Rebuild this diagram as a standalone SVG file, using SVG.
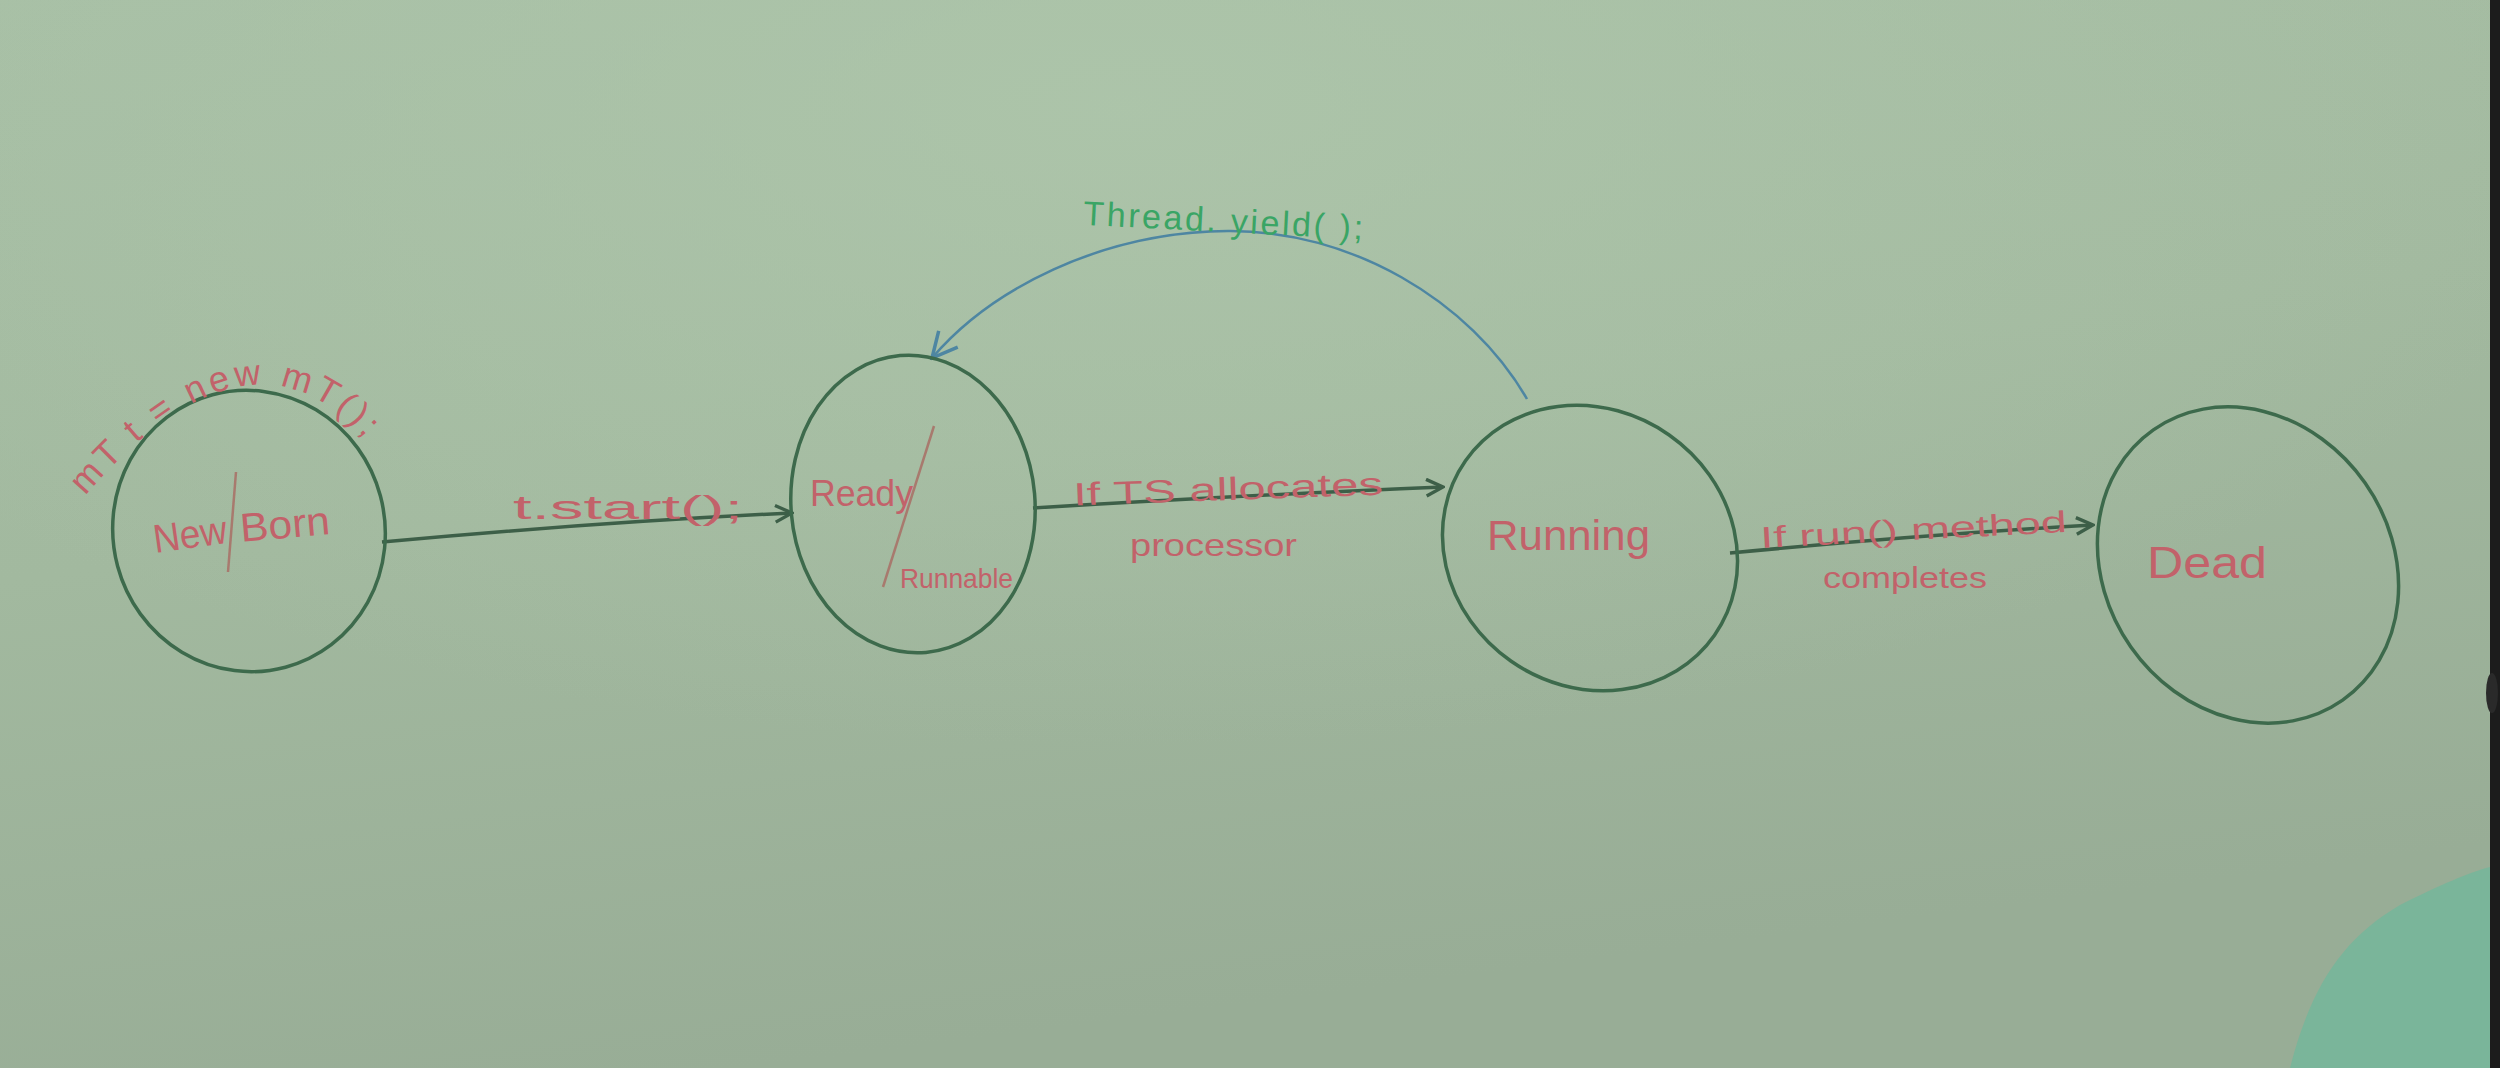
<svg xmlns="http://www.w3.org/2000/svg" width="2500" height="1068" viewBox="0 0 2500 1068">
<style>
.node{fill:none;stroke:#3d6a4c;stroke-width:3.5}
.lbl{font-family:"Liberation Sans","DejaVu Sans",sans-serif;fill:#c2626a}
.slash{stroke:#a87a6e;stroke-width:2.5}
.conn{fill:none;stroke:#3d5f48;stroke-width:3.5}
.yield{fill:none;stroke:#4e86a2;stroke-width:2.5}
</style>
<defs>
<linearGradient id="bg" x1="0" y1="0" x2="0.3" y2="1">
<stop offset="0" stop-color="#a7bfa5"/>
<stop offset="0.5" stop-color="#a2b99f"/>
<stop offset="1" stop-color="#98ad96"/>
</linearGradient>
<radialGradient id="glow" cx="0.45" cy="0.1" r="0.6">
<stop offset="0" stop-color="#aec6ab" stop-opacity="0.8"/>
<stop offset="1" stop-color="#aec6ab" stop-opacity="0"/>
</radialGradient>
<marker id="arr" viewBox="0 0 12 12" refX="11" refY="6" markerWidth="20" markerHeight="20" markerUnits="userSpaceOnUse" orient="auto">
<path d="M1,1 L11,6 L1,11" fill="none" stroke="#3d5f48" stroke-width="2"/>
</marker>
<marker id="arrB" viewBox="0 0 12 12" refX="11" refY="6" markerWidth="30" markerHeight="30" markerUnits="userSpaceOnUse" orient="auto">
<path d="M1,1 L11,6 L1,11" fill="none" stroke="#4e86a2" stroke-width="1.4"/>
</marker>
</defs>
<rect width="2500" height="1068" fill="url(#bg)"/>
<rect width="2500" height="1068" fill="url(#glow)"/>
<path d="M2290,1068 C2310,990 2340,940 2400,905 C2440,885 2470,872 2490,867 L2490,1068 Z" fill="#7ab59a"/>
<rect x="2490" y="0" width="10" height="1068" fill="#1c1c1c"/>
<ellipse cx="2492" cy="693" rx="6" ry="20" fill="#2a2a2a"/>

<g id="connectors">
<path class="conn" d="M382,542 Q600,522 792,513" marker-end="url(#arr)"/>
<path class="conn" d="M1033,508 Q1250,495 1443,487" marker-end="url(#arr)"/>
<path class="conn" d="M1730,553 Q1920,535 2093,525" marker-end="url(#arr)"/>
<path class="yield" d="M1527,399 C1470,300 1350,230 1228,231 C1100,232 990,290 932,358" marker-end="url(#arrB)"/>
<text class="lbl" x="513" y="519" font-size="34" textLength="230" lengthAdjust="spacingAndGlyphs">t.start();</text>
<text class="lbl" x="1073" y="500" font-size="32" textLength="310" lengthAdjust="spacingAndGlyphs" transform="rotate(-2 1228 490)">If TS allocates</text>
<text class="lbl" x="1130" y="556" font-size="32" textLength="167" lengthAdjust="spacingAndGlyphs">processor</text>
<text class="lbl" x="1760" y="540" font-size="30" textLength="307" lengthAdjust="spacingAndGlyphs" transform="rotate(-3 1913 530)">If run() method</text>
<text class="lbl" x="1823" y="588" font-size="30" textLength="164" lengthAdjust="spacingAndGlyphs">completes</text>
<text x="1083" y="232" font-size="34" textLength="280" lengthAdjust="spacing" transform="rotate(3 1223 225)" style="font-family:'Liberation Sans','DejaVu Sans',sans-serif;fill:#3aa565">Thread. yield( );</text>
</g>

<g id="node-newborn">
<ellipse class="node" cx="249" cy="531" rx="136" ry="141" transform="rotate(-15 249 531)"/>
<path id="mtpath" d="M85,496 Q260,292 385,462" fill="none"/>
<text class="lbl" font-size="36"><textPath href="#mtpath" textLength="335" lengthAdjust="spacing">mT t = new mT();</textPath></text>
<line class="slash" x1="236" y1="472" x2="228" y2="572"/>
<text class="lbl" x="153" y="548" font-size="40" textLength="74" lengthAdjust="spacingAndGlyphs" transform="rotate(-8 190 535)">New</text>
<text class="lbl" x="240" y="538" font-size="40" textLength="90" lengthAdjust="spacingAndGlyphs" transform="rotate(-5 285 525)">Born</text>
</g>

<g id="node-ready">
<ellipse class="node" cx="913" cy="504" rx="122" ry="149" transform="rotate(-5 913 504)"/>
<line class="slash" x1="934" y1="426" x2="883" y2="587"/>
<text class="lbl" x="810" y="506" font-size="36" textLength="103" lengthAdjust="spacingAndGlyphs">Ready</text>
<text class="lbl" x="900" y="588" font-size="28" textLength="113" lengthAdjust="spacingAndGlyphs">Runnable</text>
</g>

<g id="node-running">
<ellipse class="node" cx="1590" cy="548" rx="152" ry="138" transform="rotate(35 1590 548)"/>
<text class="lbl" x="1487" y="550" font-size="42" textLength="163" lengthAdjust="spacingAndGlyphs">Running</text>
</g>

<g id="node-dead">
<ellipse class="node" cx="2248" cy="565" rx="165" ry="143" transform="rotate(55 2248 565)"/>
<text class="lbl" x="2147" y="578" font-size="44" textLength="120" lengthAdjust="spacingAndGlyphs">Dead</text>
</g>
</svg>
